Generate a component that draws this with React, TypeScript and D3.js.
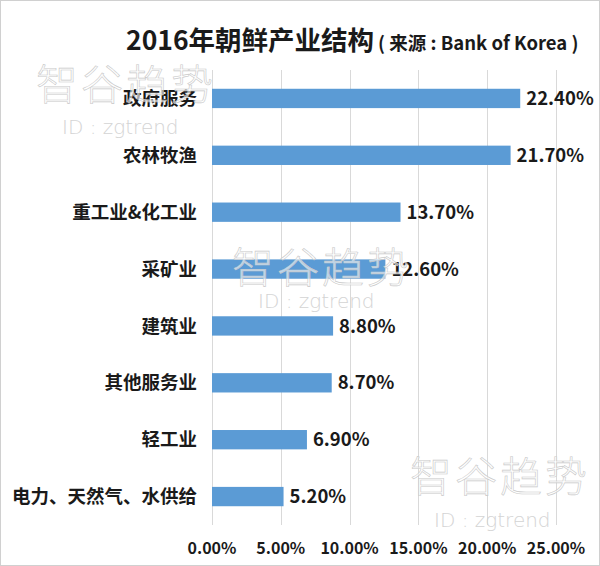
import { useEffect, useRef } from "react";
import * as d3 from "d3";

const categories = [
  "政府服务",
  "农林牧渔",
  "重工业&化工业",
  "采矿业",
  "建筑业",
  "其他服务业",
  "轻工业",
  "电力、天然气、水供给",
];
const shares = [22.4, 21.7, 13.7, 12.6, 8.8, 8.7, 6.9, 5.2];
const xTicks = [0, 5, 10, 15, 20, 25];

const watermarks = [
  { x: 36, y: 100, idX: 62, idY: 134 },
  { x: 232, y: 283, idX: 258, idY: 308 },
  { x: 410, y: 492, idX: 434, idY: 527 },
];

const width = 600;
const height = 566;
const margin = { top: 70, right: 44, bottom: 41, left: 212 };
const cjk = "'Noto Sans CJK SC', 'Noto Sans', sans-serif";

export default function App() {
  const svgRef = useRef<SVGSVGElement | null>(null);

  useEffect(() => {
    if (!svgRef.current) return;
    const svg = d3.select(svgRef.current);
    svg.selectAll("*").remove();

    const innerWidth = width - margin.left - margin.right;
    const innerHeight = height - margin.top - margin.bottom;

    const x = d3.scaleLinear().domain([0, 25]).range([0, innerWidth]);
    const y = d3
      .scaleBand<string>()
      .domain(categories)
      .range([0, innerHeight])
      .paddingInner(0.66)
      .paddingOuter(0.33);

    svg
      .append("rect")
      .attr("x", 0.5)
      .attr("y", 0.5)
      .attr("width", width - 1)
      .attr("height", height - 1)
      .attr("fill", "#fff")
      .attr("stroke", "#d0d0d0");

    // title
    const title = svg
      .append("text")
      .attr("x", 126)
      .attr("y", 50)
      .attr("font-family", cjk)
      .attr("font-weight", 700)
      .attr("fill", "#1a1a1a");
    title.append("tspan").attr("font-size", 26.5).text("2016年朝鲜产业结构");
    title
      .append("tspan")
      .attr("font-size", 18.5)
      .attr("dx", 4)
      .text("( 来源 : Bank of Korea )");

    const root = svg
      .append("g")
      .attr("transform", `translate(${margin.left},${margin.top})`);

    root
      .append("g")
      .selectAll("line")
      .data(xTicks)
      .join("line")
      .attr("x1", (d) => Math.round(x(d)) + 0.5)
      .attr("x2", (d) => Math.round(x(d)) + 0.5)
      .attr("y1", 0)
      .attr("y2", innerHeight)
      .attr("stroke", "#d9d9d9");

    root
      .append("g")
      .selectAll("rect")
      .data(shares)
      .join("rect")
      .attr("x", 0)
      .attr("y", (_, i) => y(categories[i])!)
      .attr("width", (d) => x(d))
      .attr("height", y.bandwidth())
      .attr("fill", "#5b9bd5");

    root
      .append("g")
      .selectAll("text")
      .data(shares)
      .join("text")
      .attr("x", (d) => x(d) + 6)
      .attr("y", (_, i) => y(categories[i])! + y.bandwidth() / 2)
      .attr("dy", "0.36em")
      .attr("font-family", cjk)
      .attr("font-weight", 700)
      .attr("font-size", 18.5)
      .attr("fill", "#1a1a1a")
      .text((d) => `${d.toFixed(2)}%`);

    root
      .append("g")
      .selectAll("text")
      .data(categories)
      .join("text")
      .attr("x", -15)
      .attr("y", (d) => y(d)! + y.bandwidth() / 2)
      .attr("dy", "0.36em")
      .attr("text-anchor", "end")
      .attr("font-family", cjk)
      .attr("font-weight", 700)
      .attr("font-size", 18.5)
      .attr("fill", "#1a1a1a")
      .text((d) => d);

    root
      .append("g")
      .selectAll("text")
      .data(xTicks)
      .join("text")
      .attr("x", (d) => x(d))
      .attr("y", innerHeight + 29)
      .attr("text-anchor", "middle")
      .attr("font-family", cjk)
      .attr("font-weight", 700)
      .attr("font-size", 16)
      .attr("fill", "#1a1a1a")
      .text((d) => `${d.toFixed(2)}%`);

    // watermarks
    const wm = svg.append("g").attr("pointer-events", "none");
    watermarks.forEach((w) => {
      wm.append("text")
        .attr("x", w.x)
        .attr("y", w.y)
        .attr("font-family", cjk)
        .attr("font-weight", 300)
        .attr("font-size", 42)
        .attr("fill", "rgba(255,255,255,0.6)")
        .attr("stroke", "#c8c8c8")
        .attr("stroke-width", 0.6)
        .attr("letter-spacing", 3)
        .text("智谷趋势");
      wm.append("text")
        .attr("x", w.idX)
        .attr("y", w.idY)
        .attr("font-family", "'DejaVu Sans', sans-serif")
        .attr("font-weight", 300)
        .attr("font-size", 20)
        .attr("fill", "#d4d4d4")
        .text("ID : zgtrend");
    });
  }, []);

  return (
    <svg
      ref={svgRef}
      width={width}
      height={height}
      style={{ position: "absolute", left: 0, top: 0, display: "block" }}
    />
  );
}
